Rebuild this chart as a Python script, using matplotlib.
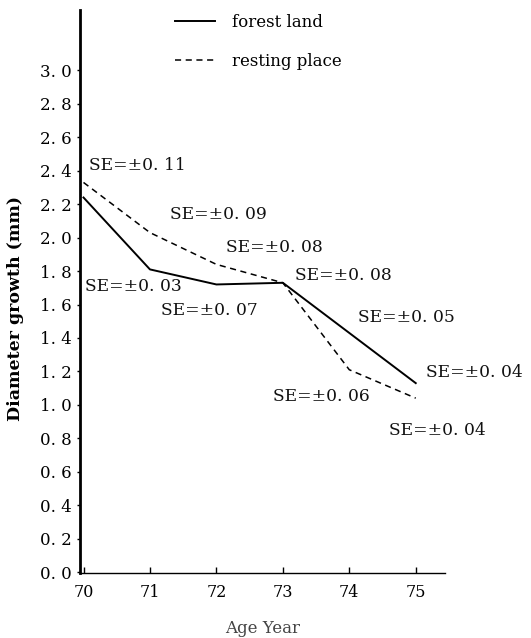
import numpy as np
import matplotlib
matplotlib.use("Agg")
import matplotlib.pyplot as plt

# age years and mean diameter growth (mm)
years = [70, 71, 72, 73, 74, 75]
forest = [2.24, 1.81, 1.72, 1.73, 1.43, 1.13]
resting = [2.33, 2.03, 1.84, 1.73, 1.21, 1.04]

# standard errors written beside the points (None = no label)
forest_se = [None, "0. 03", "0. 07", None, "0. 05", "0. 04"]
resting_se = ["0. 11", "0. 09", "0. 08", "0. 08", "0. 06", "0. 04"]

yticks = [0.0, 0.2, 0.4, 0.6, 0.8, 1.0, 1.2, 1.4, 1.6, 1.8, 2.0, 2.2, 2.4, 2.6, 2.8, 3.0]

# label offsets in pixels from each point (dx to text left, dy to text centre, down positive)
forest_off = [None, (-65, 17), (-55, 26), None, (9, -15), (10, -11)]
resting_off = [(5, -17), (20, -18), (10, -17), (12, -7), (-76, 27), (-27, 32)]

plt.rcParams['font.family'] = ['DejaVu Serif']

fig = plt.figure(figsize=(5.31, 6.38), dpi=100)
ax = fig.add_axes([0.151, 0.102, 0.687, 0.882])

ax.plot(years, forest, color="black", lw=1.4, label="forest land")
ax.plot(years, resting, color="black", lw=1.1, ls=(0, (4, 3)), label="resting place")

def put_labels(xs, ys, ses, offs):
    for x, y, se, off in zip(xs, ys, ses, offs):
        if se is None:
            continue
        ax.annotate("SE=±" + se, (x, y), xytext=(off[0], -off[1]),
                    textcoords="offset pixels", ha="left", va="center",
                    fontsize=12.3, color="#111111")

put_labels(years, forest, forest_se, forest_off)
put_labels(years, resting, resting_se, resting_off)

ax.set_xlim(69.95, 75.44)
ax.set_ylim(-0.005, 3.36)
ax.set_xticks(years)
ax.set_xticklabels([str(y) for y in years])
ax.set_yticks(yticks)
ax.set_yticklabels([f"{v:.1f}".replace(".", ". ") for v in yticks])

for s in ["top", "right"]:
    ax.spines[s].set_visible(False)
ax.spines["left"].set_linewidth(2.0)
ax.spines["bottom"].set_linewidth(1.0)

ax.tick_params(axis="y", direction="out", length=2, width=1, pad=4, labelsize=12)
ax.tick_params(axis="x", direction="in", length=4, width=1, pad=8, labelsize=11.5)

ax.set_ylabel("Diameter growth (mm)", fontsize=12.5, fontweight="bold")
ax.yaxis.set_label_coords(-0.155, 0.47)
ax.set_xlabel("Age Year", fontsize=12, labelpad=14, color="#444444")

ax.legend(loc="upper left", bbox_to_anchor=(0.22, 1.02), frameon=False,
          fontsize=12, handlelength=2.4, handletextpad=1.0, labelspacing=1.3)

plt.savefig("out.png", dpi=100)
